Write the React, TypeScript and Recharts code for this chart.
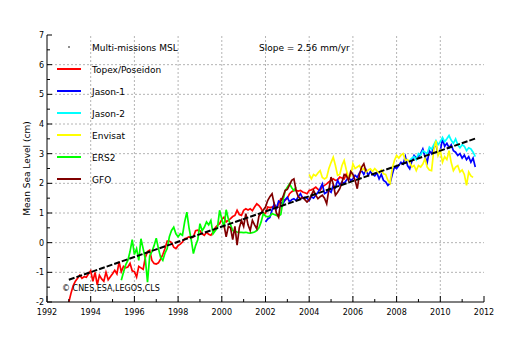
import { LineChart, Line, XAxis, YAxis, ReferenceLine, Legend } from 'recharts';

const FONT = '"DejaVu Sans", Verdana, sans-serif';
const STEP = 0.1; // samples every 0.1 yr

// Topex/Poseidon, from 1993.0
const topexStart = 1993.0;
const topexValues = [
  -2.0, -1.7, -1.45, -1.3, -1.2, -1.1, -1.2, -1.15, -1.17, -1.05,
  -0.95, -1.3, -1.0, -1.42, -1.1, -1.22, -1.3, -1.0, -1.25, -1.15,
  -1.05, -0.93, -1.05, -0.65, -0.98, -0.8, -0.85, -0.82, -0.7, -0.95,
  -0.98, -1.16, -0.8, -0.85, -0.9, -0.5, -0.3, -0.25, -0.6, -0.7,
  -0.72, -0.68, -0.55, -0.4, -0.2, 0.05, 0.05, 0.0, -0.15, -0.2,
  -0.1, -0.05, 0.02, 0.13, 0.16, 0.2, 0.15, 0.2, 0.4, 0.42,
  0.4, 0.3, 0.25, 0.35, 0.28, 0.25, 0.35, 0.5, 0.58, 0.64,
  0.78, 0.86, 0.7, 0.75, 0.81, 0.88, 0.92, 1.09, 0.95, 0.92,
  1.09, 1.14, 1.1, 1.14, 1.08, 1.2, 1.31, 1.25, 1.15, 1.0,
  0.98, 1.2, 1.18, 1.2, 1.22, 1.15, 1.3, 1.48, 1.46, 1.43,
  1.5, 1.65, 1.72, 1.76, 1.76, 1.74, 1.76, 1.71, 1.68, 1.65,
  1.76, 1.78, 1.82, 1.87, 1.8, 1.76, 1.88, 1.93, 1.98, 2.05,
  2.1, 2.15, 2.1, 2.12, 2.21, 2.18, 2.15, 2.32, 2.15,
];

// Jason-1, from 2002.0
const jason1Start = 2002.0;
const jason1Values = [
  0.7, 0.8, 0.85, 1.1, 1.31, 1.15, 1.4, 1.35, 1.31, 1.45,
  1.53, 1.37, 1.45, 1.48, 1.42, 1.55, 1.65, 1.5, 1.53, 1.5,
  1.42, 1.55, 1.5, 1.6, 1.7, 1.82, 1.98, 1.65, 1.7, 1.76,
  1.7, 1.93, 1.85, 2.1, 1.95, 2.04, 2.0, 2.1, 2.21, 2.1,
  2.15, 2.27, 2.2, 2.35, 2.43, 2.3, 2.45, 2.27, 2.4, 2.3,
  2.25, 2.35, 2.15, 2.3, 2.1, 2.05, 1.93, 2.0, 2.3, 2.55,
  2.5, 2.6, 2.71, 2.65, 2.9, 2.6, 2.49, 2.75, 2.94, 2.85,
  2.9, 3.0, 3.16, 2.9, 2.7, 3.1, 3.0, 3.22, 3.3, 3.0,
  3.1, 3.5, 3.25, 3.35, 3.2, 3.3, 3.1, 3.05, 2.94, 3.0,
  2.85, 2.95, 2.8, 2.9, 2.71, 2.85, 2.55,
];

// Jason-2, from 2008.6
const jason2Start = 2008.6;
const jason2Values = [
  2.77, 2.85, 2.9, 2.8,
  3.0, 2.95, 3.1, 3.05, 3.0, 3.22, 3.15, 3.3, 3.44, 3.3,
  3.4, 3.55, 3.4, 3.5, 3.61, 3.45, 3.35, 3.5, 3.3, 3.2,
  3.3, 3.25, 3.1, 3.2, 3.16, 3.05, 2.9,
];

// Envisat, from 2004.0
const envisatStart = 2004.0;
const envisatValues = [
  2.3, 2.15, 2.3, 2.25, 2.35, 2.43, 2.2, 2.15, 2.2, 2.5,
  2.7, 2.88, 2.6, 2.27, 2.3, 2.6, 2.77, 2.45, 2.2, 2.25,
  2.66, 2.5, 2.55, 2.6, 2.45, 2.5, 2.38, 2.45, 2.49, 2.4,
  2.5, 2.42, 2.35, 2.45, 2.32, 2.3, 2.1, 2.0, 2.5, 2.77,
  2.94, 2.85, 2.95, 3.0, 2.77, 2.8, 2.7, 2.55, 2.6, 2.43,
  2.6, 2.55, 2.65, 2.83, 2.55, 2.45, 2.43, 3.1, 3.44, 2.94,
  3.1, 2.71, 2.9, 2.8, 3.1, 2.7, 2.43, 2.55, 2.6, 2.38,
  2.45, 2.3, 1.93, 2.38, 2.25, 2.2,
];

// ERS2, from 1995.4
const ers2Start = 1995.4;
const ers2Values = [
  -1.27, -1.0, -0.75, -0.6, -0.3, 0.1,
  -0.4, -0.2, -0.6, 0.13, -0.2, -0.55, -1.33, -0.45, -0.3, -0.1,
  0.15, -0.2, -0.5, -0.6, -0.35, -0.2, 0.2, 0.41, 0.52, 0.3,
  0.2, 0.3, 0.25, 0.7, 1.03, 0.5, 0.1, -0.37, -0.1, 0.1,
  0.64, 0.4, 0.52, 0.7, 0.6, 0.75, 0.3, 0.4, 0.5, 1.09,
  0.8, 0.52, 1.11, 0.8, 0.6, 0.41, 0.38, 0.36, 0.35, 0.35,
  0.34, 0.35, 0.33, 0.32, 0.34, 0.36, 0.41, 0.5, 0.7, 0.98,
  0.9, 0.87, 0.9, 0.98, 0.95, 0.92, 0.9, 0.95, 1.42, 1.75,
  1.87, 1.98, 1.85, 1.76, 1.87,
];

// GFO, from 2000.1
const gfoStart = 2000.1;
const gfoValues = [
  0.6, 0.2, 0.55, 0.5, 0.1, 0.55, -0.08, 0.5, 0.75,
  0.55, 0.98, 0.6, 0.41, 0.75, 0.6, 0.47, 0.9, 1.0, 1.1,
  1.2, 1.42, 1.55, 1.65, 1.3, 1.0, 0.86, 1.4, 1.55, 1.76,
  1.8, 1.95, 2.1, 2.15, 1.76, 1.55, 1.48, 1.53, 1.45, 1.37,
  1.45, 1.6, 1.76, 1.6, 1.48, 1.55, 1.6, 1.5, 1.31, 1.8,
  2.21, 1.98, 1.6, 1.7, 1.82, 2.04, 2.3, 2.26, 2.1, 2.4,
  2.3, 2.1, 1.82, 2.3, 2.55, 2.66, 2.4,
];

// Multi-mission trend, 2.56 mm/yr
const trendYears = [1993.0, 2011.6];
const trendValues = [-1.25, 3.51];

const yearTicks = [1992, 1993, 1994, 1995, 1996, 1997, 1998, 1999, 2000, 2001, 2002,
  2003, 2004, 2005, 2006, 2007, 2008, 2009, 2010, 2011, 2012];
const levelTicks = [-2, -1.5, -1, -0.5, 0, 0.5, 1, 1.5, 2, 2.5, 3, 3.5, 4, 4.5, 5, 5.5, 6, 6.5, 7];
const gridYears = [1994, 1996, 1998, 2000, 2002, 2004, 2006, 2008, 2010];
const gridLevels = [-1, 0, 1, 2, 3, 4, 5, 6];

const legendOrder = ['Multi-missions MSL', 'Topex/Poseidon', 'Jason-1', 'Jason-2', 'Envisat', 'ERS2', 'GFO'];

const toPoints = (start: number, values: number[]) =>
  values.map((v, i) => ({ t: Math.round((start + i * STEP) * 100) / 100, v }));

const series = [
  { name: 'Topex/Poseidon', color: '#ff0000', data: toPoints(topexStart, topexValues) },
  { name: 'Jason-1', color: '#0000ff', data: toPoints(jason1Start, jason1Values) },
  { name: 'Jason-2', color: '#00ffff', data: toPoints(jason2Start, jason2Values) },
  { name: 'Envisat', color: '#ffff00', data: toPoints(envisatStart, envisatValues) },
  { name: 'ERS2', color: '#00ff00', data: toPoints(ers2Start, ers2Values) },
  { name: 'GFO', color: '#800000', data: toPoints(gfoStart, gfoValues) },
];

const trendData = trendYears.map((t, i) => ({ t, v: trendValues[i] }));

const BottomTick = (props: any) => {
  const { x, y, payload } = props;
  const major = payload.value % 2 === 0;
  return (
    <g>
      <line x1={x} y1={y} x2={x} y2={y - (major ? 6 : 3)} stroke="#000" />
      {major && (
        <text x={x} y={y + 13} textAnchor="middle" fontSize={8} fontFamily={FONT} fill="#000">
          {payload.value}
        </text>
      )}
    </g>
  );
};

const TopTick = (props: any) => {
  const { x, y, payload } = props;
  const major = payload.value % 2 === 0;
  return <line x1={x} y1={y} x2={x} y2={y + (major ? 6 : 3)} stroke="#000" />;
};

const LeftTick = (props: any) => {
  const { x, y, payload } = props;
  const major = Number.isInteger(payload.value);
  return (
    <g>
      <line x1={x} y1={y} x2={x + (major ? 5 : 3)} y2={y} stroke="#000" />
      {major && (
        <text x={x - 3} y={y + 3} textAnchor="end" fontSize={8} fontFamily={FONT} fill="#000">
          {payload.value}
        </text>
      )}
    </g>
  );
};

const RightTick = (props: any) => {
  const { x, y, payload } = props;
  const major = Number.isInteger(payload.value);
  return <line x1={x} y1={y} x2={x - (major ? 5 : 3)} y2={y} stroke="#000" />;
};

const renderLegend = (props: any) => {
  const entries = legendOrder
    .map((name) => (props.payload || []).find((p: any) => p.value === name))
    .filter(Boolean);
  return (
    <svg width={140} height={155}>
      {entries.map((e: any, i: number) => {
        const cy = 9 + i * 22;
        return (
          <g key={e.value}>
            {e.value === 'Multi-missions MSL' ? (
              <circle cx={14} cy={cy} r={0.8} fill="#000" />
            ) : (
              <line x1={2} y1={cy} x2={26} y2={cy} stroke={e.color} strokeWidth={2} />
            )}
            <text x={37} y={cy + 3.5} fontSize={9} fontFamily={FONT} fill="#000">
              {e.value}
            </text>
          </g>
        );
      })}
    </svg>
  );
};

const App = () => {
  return (
    <div style={{ position: 'absolute', left: 0, top: 0, width: 510, height: 339, background: '#fff' }}>
      <LineChart width={510} height={339} margin={{ top: 35, right: 26, bottom: 0, left: 0 }}>
        {gridYears.map((yr) => (
          <ReferenceLine key={`gx${yr}`} x={yr} stroke="#b4b4b4" strokeDasharray="2 2" />
        ))}
        {gridLevels.map((lv) => (
          <ReferenceLine key={`gy${lv}`} y={lv} stroke="#b4b4b4" strokeDasharray="2 2" />
        ))}
        <XAxis
          dataKey="t"
          type="number"
          domain={[1992, 2012]}
          ticks={yearTicks}
          interval={0}
          allowDataOverflow
          height={37}
          tickSize={0}
          tickMargin={0}
          tickLine={false}
          axisLine={{ stroke: '#000' }}
          tick={BottomTick}
        />
        <XAxis
          xAxisId="top"
          orientation="top"
          type="number"
          domain={[1992, 2012]}
          ticks={yearTicks}
          interval={0}
          allowDataOverflow
          height={0}
          tickSize={0}
          tickMargin={0}
          tickLine={false}
          axisLine={{ stroke: '#000' }}
          tick={TopTick}
        />
        <YAxis
          type="number"
          domain={[-2, 7]}
          ticks={levelTicks}
          interval={0}
          allowDataOverflow
          width={47}
          tickSize={0}
          tickMargin={0}
          tickLine={false}
          axisLine={{ stroke: '#000' }}
          tick={LeftTick}
          label={{
            value: 'Mean Sea Level (cm)',
            angle: -90,
            position: 'center',
            dx: 3,
            style: { fontSize: 9, fontFamily: FONT, fill: '#000' },
          }}
        />
        <YAxis
          yAxisId="right"
          orientation="right"
          type="number"
          domain={[-2, 7]}
          ticks={levelTicks}
          interval={0}
          allowDataOverflow
          width={0}
          tickSize={0}
          tickMargin={0}
          tickLine={false}
          axisLine={{ stroke: '#000' }}
          tick={RightTick}
        />
        {series.map((s) => (
          <Line
            key={s.name}
            name={s.name}
            data={s.data}
            dataKey="v"
            type="linear"
            stroke={s.color}
            strokeWidth={1.7}
            dot={false}
            isAnimationActive={false}
          />
        ))}
        <Line
          name="Multi-missions MSL"
          data={trendData}
          dataKey="v"
          type="linear"
          stroke="#000"
          strokeWidth={2}
          strokeDasharray="6 2"
          dot={false}
          isAnimationActive={false}
        />
        <Legend
          layout="vertical"
          align="center"
          verticalAlign="middle"
          content={renderLegend}
          wrapperStyle={{ position: 'absolute', left: 55, top: 38, width: 140, height: 155 }}
        />
      </LineChart>
      <svg
        width={510}
        height={339}
        style={{ position: 'absolute', left: 0, top: 0, pointerEvents: 'none' }}
      >
        <text x={259} y={50.5} fontSize={9} fontFamily={FONT} fill="#000">
          Slope = 2.56 mm/yr
        </text>
        <text x={62} y={291} fontSize={8} fontFamily={FONT} fill="#000">
          © CNES,ESA,LEGOS,CLS
        </text>
      </svg>
    </div>
  );
};

export default App;
